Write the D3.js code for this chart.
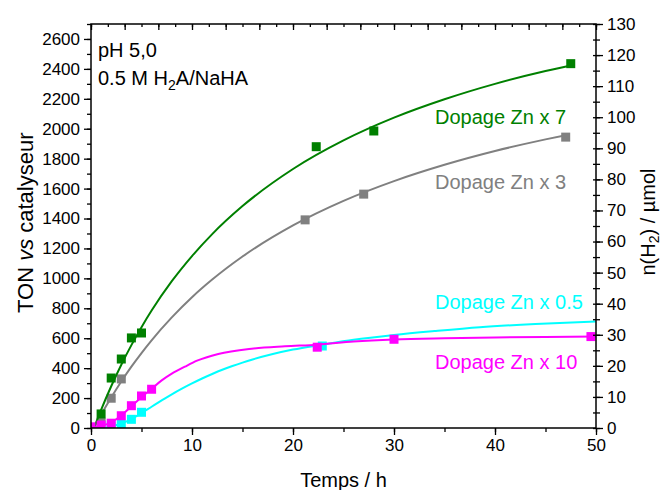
<!DOCTYPE html>
<html><head><meta charset="utf-8">
<script src="https://cdn.jsdelivr.net/npm/d3@7"></script>
<style>
body{margin:0;background:#fff}
text{font-family:Arial,"Liberation Sans",sans-serif;fill:#000}
</style></head><body>
<svg id="c" width="664" height="490"></svg>
<script>
// ---- data ----
const xTicks = [0,10,20,30,40,50];
const yLeftTicks = [0,200,400,600,800,1000,1200,1400,1600,1800,2000,2200,2400,2600];
const yRightTicks = [0,10,20,30,40,50,60,70,80,90,100,110,120,130];

const green_t   = [1,2,3,4,5,22.3,28,47.5];
const green_ton = [94,334,461,602,635,1880,1985,2435];
const gray_t    = [1,2,3,21.2,27,47];
const gray_ton  = [38,199,328,1391,1563,1944];
const cyan_t    = [2,3,4,5,22.9];
const cyan_ton  = [13,25,58,105,548];
const mag_t     = [0,1,2,3,4,5,6,22.4,30,49.5];
const mag_ton   = [8,20,32,82,149,214,259,540,593,611];

// fit curves
const greenFit_t   = [0.3,1,2,3,4,5,6,8,10,12,15,20,25,30,35,40,45,47.5];
const greenFit_ton = [0,121,279,423,554,674,785,981,1149,1296,1483,1731,1922,2074,2197,2300,2386,2423];
const grayFit_t    = [0.3,1,2,3,4,5,6,8,10,12,15,20,25,30,35,40,45,47];
const grayFit_ton  = [0,88,204,311,410,501,586,739,874,992,1146,1354,1518,1650,1759,1851,1929,1957];
const cyanFit_t    = [1.4,2,3,4,5,6,7,8,9,10,11,12,13,14,15,16,18,20,22.9,26,30,34,38.5,44,50];
const cyanFit_ton  = [0,10,30,60,100,142,184,225,263,298,331,361,389,414,437,458,494,524,557,590,622,648,674,695,711];
const magFit_t     = [0,1,2,3,4,5,6,7,8,9.3,10.5,12.6,15.9,19.2,22.4,26,30,35,40,45,50];
const magFit_ton   = [0,14,38,84,146,206,262,318,363,410,450,495,530,546,557,578,592,600,605,608,611];

const labels = ["Dopage Zn x 7","Dopage Zn x 3","Dopage Zn x 0.5","Dopage Zn x 10"];

// ---- chart ----
const svg = d3.select("#c");
const L=91, R=596, T=24, B=428;
const x = d3.scaleLinear().domain([0,50]).range([L,R]);
const yL = d3.scaleLinear().domain([0,2700]).range([B,T]);
const yR = d3.scaleLinear().domain([0,130]).range([B,T]);
const xTop = d3.scaleLinear().domain([0,30]).range([L,R]);

const colors = {green:"#008000", gray:"#808080", cyan:"#00FFFF", mag:"#FF00FF"};

svg.append("clipPath").attr("id","clip").append("rect")
  .attr("x",L).attr("y",T).attr("width",R-L).attr("height",B-T);

const g = svg.append("g").attr("clip-path","url(#clip)");
const line = d3.line().curve(d3.curveMonotoneX);

function series(ft, fv, pt, pv, col){
  g.append("path").attr("d", line(ft.map((t,i)=>[x(t), yL(fv[i])])))
    .attr("fill","none").attr("stroke",col).attr("stroke-width",2);
  g.selectAll(null).data(pt.map((t,i)=>[t,pv[i]])).enter().append("rect")
    .attr("x",d=>x(d[0])-4.5).attr("y",d=>yL(d[1])-4.5)
    .attr("width",9).attr("height",9).attr("fill",col);
}
series(grayFit_t, grayFit_ton, gray_t, gray_ton, colors.gray);
series(greenFit_t, greenFit_ton, green_t, green_ton, colors.green);
series(cyanFit_t, cyanFit_ton, cyan_t, cyan_ton, colors.cyan);
series(magFit_t, magFit_ton, mag_t, mag_ton, colors.mag);

// axes
function styleAxis(sel){
  sel.select(".domain").remove();
  sel.selectAll("line").attr("stroke","#000").attr("stroke-width",1.3);
  sel.selectAll("text").attr("font-size",17).style("font-family","Arial,'Liberation Sans',sans-serif");
}
const minorX = d3.range(0,51,5), minorYL = d3.range(0,2701,100), minorYR = d3.range(0,131,5);

svg.append("g").attr("transform",`translate(0,${B})`)
  .call(d3.axisBottom(x).tickValues(minorX).tickSize(4).tickFormat("")).call(styleAxis);
svg.append("g").attr("transform",`translate(0,${B})`)
  .call(d3.axisBottom(x).tickValues(xTicks).tickSize(7).tickPadding(4).tickFormat(d3.format("d"))).call(styleAxis);

svg.append("g").attr("transform",`translate(${L},0)`)
  .call(d3.axisLeft(yL).tickValues(minorYL).tickSize(4).tickFormat("")).call(styleAxis);
svg.append("g").attr("transform",`translate(${L},0)`)
  .call(d3.axisLeft(yL).tickValues(yLeftTicks).tickSize(7).tickPadding(4).tickFormat(d3.format("d"))).call(styleAxis);

svg.append("g").attr("transform",`translate(${R},0)`)
  .call(d3.axisRight(yR).tickValues(minorYR).tickSize(4).tickFormat("")).call(styleAxis);
svg.append("g").attr("transform",`translate(${R},0)`)
  .call(d3.axisLeft(yR).tickValues(minorYR).tickSize(3).tickFormat("")).call(styleAxis);
svg.append("g").attr("transform",`translate(${R},0)`)
  .call(d3.axisRight(yR).tickValues(yRightTicks).tickSize(7).tickPadding(4).tickFormat(d3.format("d"))).call(styleAxis);

svg.append("g").attr("transform",`translate(0,${T})`)
  .call(d3.axisBottom(xTop).ticks(30).tickSize(3).tickFormat("")).call(styleAxis);
svg.append("g").attr("transform",`translate(0,${T})`)
  .call(d3.axisBottom(xTop).tickValues(d3.range(0,31,2)).tickSize(6).tickFormat("")).call(styleAxis);

// frame
svg.append("rect").attr("x",L).attr("y",T).attr("width",R-L).attr("height",B-T)
  .attr("fill","none").attr("stroke","#000").attr("stroke-width",1.5);

// axis titles
svg.append("text").attr("x",(L+R)/2).attr("y",487).attr("text-anchor","middle")
  .attr("font-size",20).text("Temps / h");

const lt = svg.append("text").attr("transform","translate(33,313) rotate(-90)")
  .attr("text-anchor","start").attr("font-size",22);
lt.append("tspan").text("TON ");
lt.append("tspan").attr("font-style","italic").text("vs");
lt.append("tspan").text(" catalyseur");

const rt = svg.append("text").attr("transform","translate(655,222) rotate(-90)")
  .attr("text-anchor","middle").attr("font-size",20);
rt.append("tspan").text("n(H");
rt.append("tspan").attr("font-size",14).attr("dy",4).text("2");
rt.append("tspan").attr("dy",-4).text(") / µmol");

// annotations
svg.append("text").attr("x",98).attr("y",57).attr("font-size",20).text("pH 5,0");
const t2 = svg.append("text").attr("x",98).attr("y",85).attr("font-size",20);
t2.append("tspan").text("0.5 M H");
t2.append("tspan").attr("font-size",14).attr("dy",5).text("2");
t2.append("tspan").attr("dy",-5).text("A/NaHA");

const labY = [124,189,309,369];
const labC = [colors.green, colors.gray, colors.cyan, colors.mag];
labels.forEach((s,i)=>{
  svg.append("text").attr("x",435).attr("y",labY[i]).attr("font-size",20)
    .style("fill",labC[i]).text(s);
});
</script>
</body></html>
